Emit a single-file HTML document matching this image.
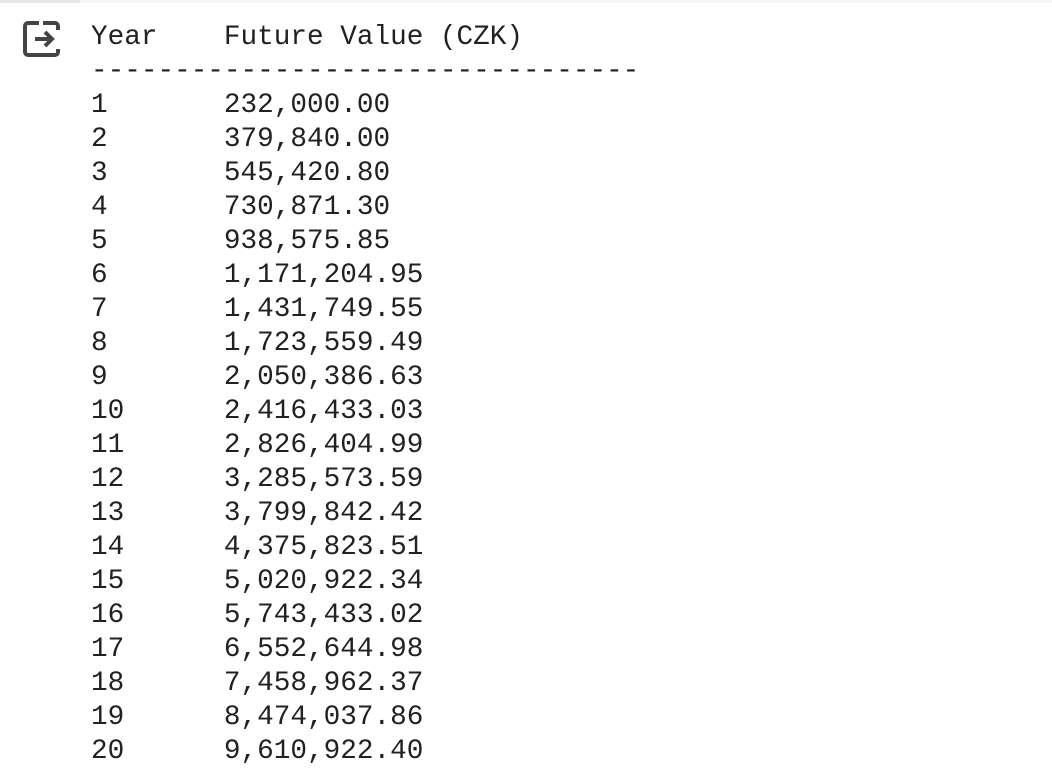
<!DOCTYPE html>
<html><head><meta charset="utf-8">
<style>
html,body{margin:0;padding:0;width:1052px;height:782px;background:#fff;overflow:hidden;}
.topbar{position:absolute;left:0;top:0;width:1052px;height:3px;background:#f5f5f5;}
.topbar-left{position:absolute;left:0;top:0;width:80px;height:3px;background:#e6e6e6;}
.icon{position:absolute;left:22px;top:20px;}
pre{position:absolute;left:91px;top:21px;margin:0;font-family:"Liberation Mono",monospace;font-size:27.7px;line-height:34px;color:#212121;}
</style></head>
<body>
<div class="topbar"><div class="topbar-left"></div></div>
<svg class="icon" width="40" height="38" viewBox="0 0 40 38">
<path d="M17 3 H6 a3 3 0 0 0 -3 3 V32 a3 3 0 0 0 3 3 H33 a3 3 0 0 0 3 -3 V29" fill="none" stroke="#444" stroke-width="4"/>
<path d="M21 3 H33 a3 3 0 0 1 3 3 V10" fill="none" stroke="#444" stroke-width="4"/>
<path d="M13 19 H30 M23 12 L30 19 L23 26" fill="none" stroke="#444" stroke-width="4"/>
</svg>
<pre>Year    Future Value (CZK)
---------------------------------
1       232,000.00
2       379,840.00
3       545,420.80
4       730,871.30
5       938,575.85
6       1,171,204.95
7       1,431,749.55
8       1,723,559.49
9       2,050,386.63
10      2,416,433.03
11      2,826,404.99
12      3,285,573.59
13      3,799,842.42
14      4,375,823.51
15      5,020,922.34
16      5,743,433.02
17      6,552,644.98
18      7,458,962.37
19      8,474,037.86
20      9,610,922.40</pre>
</body></html>
